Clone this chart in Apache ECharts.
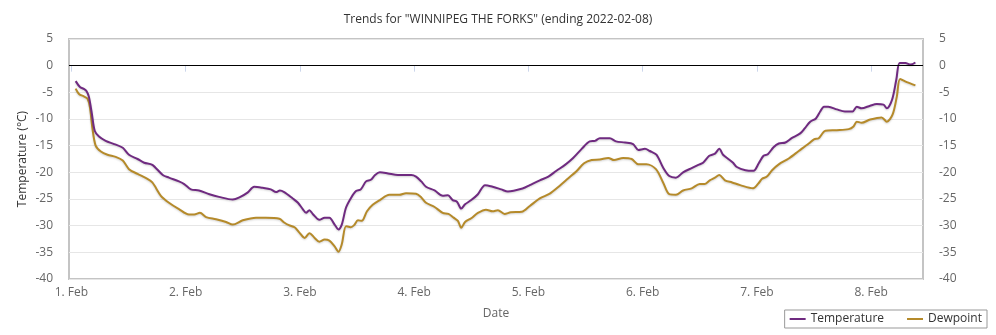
<!DOCTYPE html>
<html>
<head>
<meta charset="utf-8">
<title>Trends</title>
<script src="https://cdn.jsdelivr.net/npm/echarts@6/dist/echarts.min.js"></script>
<style>
  html, body { margin: 0; padding: 0; background: #fff; }
  #chart { width: 996px; height: 335px; }
</style>
</head>
<body>
<div id="chart"></div>
<script>
// Hours since 1 Feb 2022 00:00 and the observed values (°C)
const tempHours = [0.9,1.8,2.7,3.2,3.7,4.3,4.9,5.8,7.2,9,10.8,12.1,13.9,15.3,17,19.2,20.5,22.6,23.7,25.1,26.8,29,31,33.9,35.3,37,38.4,40.2,41.9,43,43.8,44.7,
  46.5,47.6,48.6,49.3,50,50.7,52.1,53.2,54.2,55.3,56.1,56.8,57.7,58.8,59.8,60.8,61.9,62.9,63.8,64.8,66.5,68.6,71.4,72.4,73.5,74.5,76.3,78,79.1,80.1,81,81.9,82.7,84,85.4,86.9,88.5,90.3,91.7,
  94.9,96.3,98.4,100.2,101.9,103.7,105.4,107.2,108.9,110,111,113.1,114.4,116.3,118,119.1,120.5,121.5,122.9,124.3,125.6,127,128.5,130.3,131.7,132.7,134,135.2,136.1,136.9,138,139,
  139.8,141.6,143.3,144.4,145.4,146.3,147.5,148.6,150,151.3,153.1,154.1,155.2,156.4,157.3,158.1,159,160.8,162.5,164.1,165,166,167.8,169.2,170.6,171.3,172.4,173.3,174,175.2,176.3,177.3];
const tempValues = [-2.9,-4.0,-4.4,-4.8,-5.9,-9.0,-12.2,-13.3,-14.1,-14.7,-15.4,-16.7,-17.5,-18.2,-18.6,-20.5,-21.0,-21.7,-22.2,-23.2,-23.4,-24.1,-24.6,-25.1,-24.7,-23.8,-22.7,-22.9,-23.2,-23.7,-23.4,-23.7,
  -24.9,-25.7,-26.9,-27.6,-27.1,-27.8,-28.9,-28.5,-28.5,-29.8,-30.7,-29.8,-26.6,-24.7,-23.5,-23.2,-21.7,-21.4,-20.5,-20.0,-20.2,-20.5,-20.5,-20.8,-21.7,-22.7,-23.4,-24.4,-24.3,-25.2,-25.5,-26.8,-26.0,-25.2,-24.1,-22.4,-22.7,-23.2,-23.6,
  -23.0,-22.4,-21.5,-20.8,-19.7,-18.6,-17.3,-15.6,-14.2,-14.1,-13.6,-13.6,-14.2,-14.4,-14.7,-15.8,-15.6,-16.0,-16.7,-19.1,-20.7,-21.0,-20.0,-19.2,-18.6,-18.2,-16.9,-16.5,-15.6,-16.7,-17.5,-18.2,
  -19.0,-19.6,-19.7,-18.3,-16.9,-16.6,-15.3,-14.6,-14.4,-13.6,-12.7,-11.7,-10.5,-9.9,-8.6,-7.7,-7.7,-8.2,-8.6,-8.6,-7.7,-8.0,-7.5,-7.2,-7.3,-8.0,-6.4,-2.6,0.5,0.5,0.2,0.6];

const dewHours = [0.9,1.6,2.7,3.4,3.9,4.4,5.1,6.2,7.6,9.3,10.8,12.1,13.9,15.7,17,18.8,20.5,22.6,24.7,25.8,27,28.3,30.4,32.5,33.9,36,38.8,40.9,43.7,44.7,
  45.7,46.9,47.9,49,50,51.1,52.1,53.2,54.2,55.3,56.1,56.8,57.7,58.7,59.4,60.2,61,62.1,63.3,64.8,66.8,68.9,70.3,72.4,73.5,74.5,76.3,78,79.2,80.3,81.2,81.9,82.7,84,85.4,87.1,88.5,89.6,91,
  92.3,94.6,96.3,98.4,100.5,102.6,104.4,106.1,107.7,109.3,111,112.8,114,115.9,117.7,119.1,120.8,122.8,124.3,125.6,127,128.5,130.3,132,133,134.1,135.2,136.1,137.3,138.8,
  140.5,143.2,144.4,145.1,146.1,147.2,148.6,150.7,152.8,154.9,156,157,158.4,160.8,163.3,164.3,165,166,167.8,170.2,171.3,172.5,173.4,174.1,175.5,177.3];
const dewValues = [-4.3,-5.3,-5.8,-6.2,-7.8,-11.6,-15.0,-16.1,-16.7,-17.1,-17.8,-19.4,-20.3,-21.1,-21.9,-24.4,-25.7,-26.9,-27.9,-27.9,-27.6,-28.4,-28.8,-29.3,-29.8,-29.0,-28.5,-28.5,-28.7,-29.4,
  -29.9,-30.3,-31.3,-32.3,-31.4,-32.3,-33.0,-32.6,-32.8,-33.9,-34.9,-33.5,-30.1,-30.3,-29.9,-29.0,-29.1,-27.3,-26.1,-25.2,-24.2,-24.2,-23.9,-24.0,-24.7,-25.7,-26.5,-27.6,-27.8,-28.5,-29.1,-30.4,-29.3,-28.6,-27.6,-27.0,-27.3,-27.1,-27.8,
  -27.5,-27.4,-26.3,-24.9,-24.0,-22.5,-21.1,-19.8,-18.3,-17.7,-17.6,-17.3,-17.7,-17.3,-17.5,-18.5,-18.5,-19.4,-21.9,-24.1,-24.2,-23.4,-23.0,-22.2,-22.2,-21.5,-21.0,-20.5,-21.5,-21.9,
  -22.4,-23.0,-22.0,-21.2,-20.8,-19.6,-18.5,-17.4,-16.0,-14.6,-13.8,-13.6,-12.2,-12.1,-11.9,-11.4,-10.5,-10.7,-10.1,-9.7,-10.5,-9.2,-5.8,-2.5,-3.1,-3.7];

// Day ticks (hours) and their labels
const dayTicks = [0, 24, 48, 72, 96, 120, 144, 168];
const dayLabels = ['1. Feb', '2. Feb', '3. Feb', '4. Feb', '5. Feb', '6. Feb', '7. Feb', '8. Feb'];

const titleText = 'Trends for "WINNIPEG THE FORKS" (ending 2022-02-08)';
const FONT = '"Open Sans", "Noto Sans", sans-serif';

const pair = (xs, ys) => xs.map((h, i) => [h, ys[i]]);

const chart = echarts.init(document.getElementById('chart'), null, { renderer: 'canvas' });

const yAxisBase = {
  type: 'value',
  min: -40,
  max: 5,
  interval: 5,
  axisLine: { show: false },
  axisTick: { show: false },
  splitLine: { show: true, lineStyle: { color: '#e6e6e6', width: 1 } },
  axisLabel: { color: '#666', fontSize: 12, fontFamily: FONT, margin: 16 }
};

chart.setOption({
  animation: false,
  backgroundColor: '#fff',
  title: {
    text: titleText,
    left: 'center',
    top: 9,
    textStyle: { color: '#333', fontSize: 12, fontWeight: 'normal', fontFamily: FONT }
  },
  legend: {
    right: 9,
    bottom: 7,
    orient: 'horizontal',
    icon: 'rect',
    itemWidth: 16,
    itemHeight: 2,
    itemGap: 23,
    padding: [3, 5, 3, 5],
    borderColor: '#999',
    borderWidth: 1,
    textStyle: { color: '#333', fontSize: 12, fontFamily: FONT },
    data: ['Temperature', 'Dewpoint']
  },
  grid: {
    left: 69,
    right: 73,
    top: 39,
    bottom: 56,
    show: true,
    borderColor: '#c4c4c4',
    borderWidth: 2,
    backgroundColor: 'transparent'
  },
  xAxis: {
    type: 'value',
    min: -0.5,
    max: 178.9,
    name: 'Date',
    nameLocation: 'middle',
    nameGap: 29,
    nameTextStyle: { color: '#666', fontSize: 12, fontFamily: FONT },
    axisLine: { show: false },
    splitLine: { show: false },
    axisTick: {
      show: true,
      customValues: dayTicks,
      length: 6,
      lineStyle: { color: '#ccd6eb' }
    },
    axisLabel: {
      customValues: dayTicks,
      color: '#666',
      fontSize: 12,
      fontFamily: FONT,
      margin: 8,
      formatter: (v) => dayLabels[dayTicks.indexOf(v)]
    }
  },
  yAxis: [
    Object.assign({}, yAxisBase, {
      position: 'left',
      name: 'Temperature (°C)',
      nameLocation: 'middle',
      nameGap: 40,
      nameMoveOverlap: false,
      nameTextStyle: { color: '#333', fontSize: 12, fontFamily: FONT }
    }),
    Object.assign({}, yAxisBase, {
      position: 'right',
      splitLine: { show: false }
    })
  ],
  series: [
    {
      name: 'Temperature',
      type: 'line',
      yAxisIndex: 0,
      data: pair(tempHours, tempValues),
      showSymbol: false,
      smooth: 0.3,
      color: '#6f2a80',
      lineStyle: { width: 2, color: '#6f2a80', shadowColor: 'rgba(0,0,0,0.18)', shadowBlur: 2, shadowOffsetY: 1 },
      z: 3,
      markLine: {
        silent: true,
        symbol: 'none',
        label: { show: false },
        lineStyle: { color: '#000', width: 1, type: 'solid' },
        data: [{ yAxis: 0 }]
      }
    },
    {
      name: 'Dewpoint',
      type: 'line',
      yAxisIndex: 0,
      data: pair(dewHours, dewValues),
      showSymbol: false,
      smooth: 0.3,
      color: '#b58a2a',
      lineStyle: { width: 2, color: '#b58a2a', shadowColor: 'rgba(0,0,0,0.18)', shadowBlur: 2, shadowOffsetY: 1 },
      z: 2
    }
  ]
});
</script>
</body>
</html>
